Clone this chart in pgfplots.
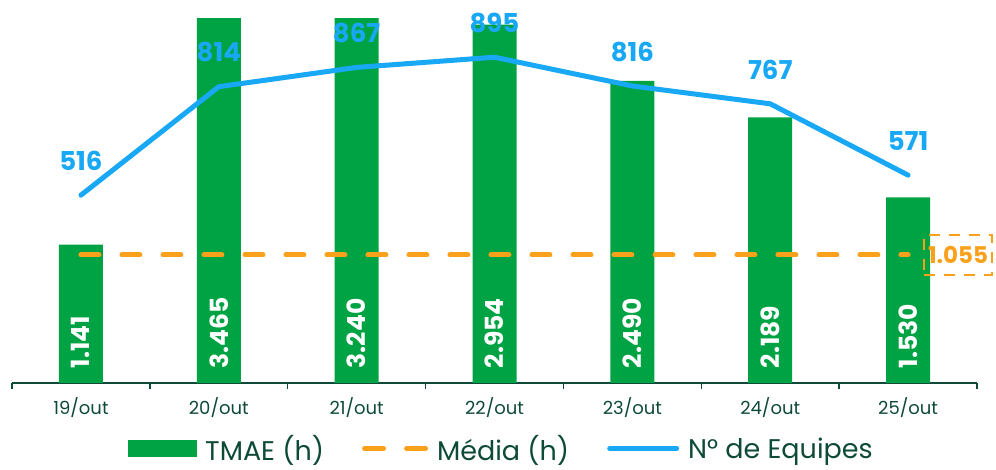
\documentclass[border=0pt]{standalone}
\usepackage{pgfplots}
\pgfplotsset{compat=1.18}
\usepackage{fontspec}
\setmainfont{Poppins}
\definecolor{barG}{HTML}{00A344}
\definecolor{lineB}{HTML}{18A8F5}
\definecolor{orng}{HTML}{F9A11B}
\definecolor{dkG}{HTML}{0E4A38}
\begin{document}
\begin{tikzpicture}[x=1pt,y=1pt]
\useasboundingbox (-12,-87) rectangle (984,383);
\begin{axis}[
  at={(0,0)}, anchor=south west,
  scale only axis, width=965pt, height=364pt,
  xmin=-0.5, xmax=6.5, ymin=0, ymax=3,
  axis x line*=bottom, axis y line=none,
  xtick={0,...,6},
  xticklabels={19/out,20/out,21/out,22/out,23/out,24/out,25/out},
  major tick length=0pt,
  minor xtick={-0.5,0.5,1.5,2.5,3.5,4.5,5.5,6.5},
  minor tick length=6pt, tick align=outside,
  every minor tick/.style={dkG, line width=1.5pt},
  x axis line style={dkG, line width=1.5pt, -},
  xticklabel style={font=\fontsize{18}{18}\selectfont, text=dkG, yshift=-11pt},
  clip mode=individual,
]
\addplot[ybar, bar width=44pt, fill=barG, draw=none] coordinates {
 (0,1.141) (1,3.465) (2,3.240) (3,2.954) (4,2.490) (5,2.189) (6,1.530)};
\addplot[orng, line width=5pt, line cap=round, dash pattern=on 18pt off 23pt] coordinates {(0,1.055) (6,1.055)};
\addplot[draw=none, mark=none, nodes near coords, point meta=explicit symbolic,
  every node near coord/.append style={rotate=90, anchor=west, text=white,
  font=\fontsize{25}{25}\selectfont\bfseries, inner sep=0pt}] coordinates {
 (0,0.12) [1.141] (1,0.12) [3.465] (2,0.12) [3.240] (3,0.12) [2.954]
 (4,0.12) [2.490] (5,0.12) [2.189] (6,0.12) [1.530]};
\node[draw=orng, line width=2.5pt, dash pattern=on 11pt off 9pt, text=orng,
  font=\fontsize{23}{23}\selectfont\bfseries, minimum width=68pt, minimum height=40pt,
  inner sep=0pt, xshift=50pt] at (axis cs:6,1.055) {1.055};
\end{axis}
\begin{axis}[
  at={(0,0)}, anchor=south west,
  scale only axis, width=965pt, height=364pt,
  xmin=-0.5, xmax=6.5, ymin=0, ymax=1000,
  hide axis, clip=false,
  legend columns=3,
  legend style={draw=none, fill=none, at={(0.507,-0.18)}, anchor=center,
    font=\fontsize{27}{27}\selectfont, text=dkG,
    /tikz/every even column/.append style={column sep=36pt},
    /tikz/every odd column/.append style={column sep=7pt}},
  legend cell align=left,
]
\addlegendimage{legend image code/.code={\fill[barG] (0pt,-8pt) rectangle (68pt,8pt);}}
\addlegendentry{TMAE (h)}
\addlegendimage{legend image code/.code={\draw[orng, line width=5pt, line cap=round, dash pattern=on 19pt off 23pt] (2.5pt,0pt) -- (63.5pt,0pt);}}
\addlegendentry{Média (h)}
\addplot[lineB, line width=5pt, line cap=round, line join=round,
  nodes near coords, point meta=explicit symbolic,
  every node near coord/.append style={anchor=south, yshift=22pt, text=lineB,
   font=\fontsize{26}{26}\selectfont\bfseries, inner sep=0pt},
  legend image code/.code={\draw[lineB, line width=5pt, line cap=round] (2.5pt,0pt) -- (69.5pt,0pt);}]
 coordinates {(0,516) [516] (1,814) [814] (2,867) [867] (3,895) [895] (4,816) [816] (5,767) [767] (6,571) [571]};
\addlegendentry{N° de Equipes}
\end{axis}
\end{tikzpicture}
\end{document}
